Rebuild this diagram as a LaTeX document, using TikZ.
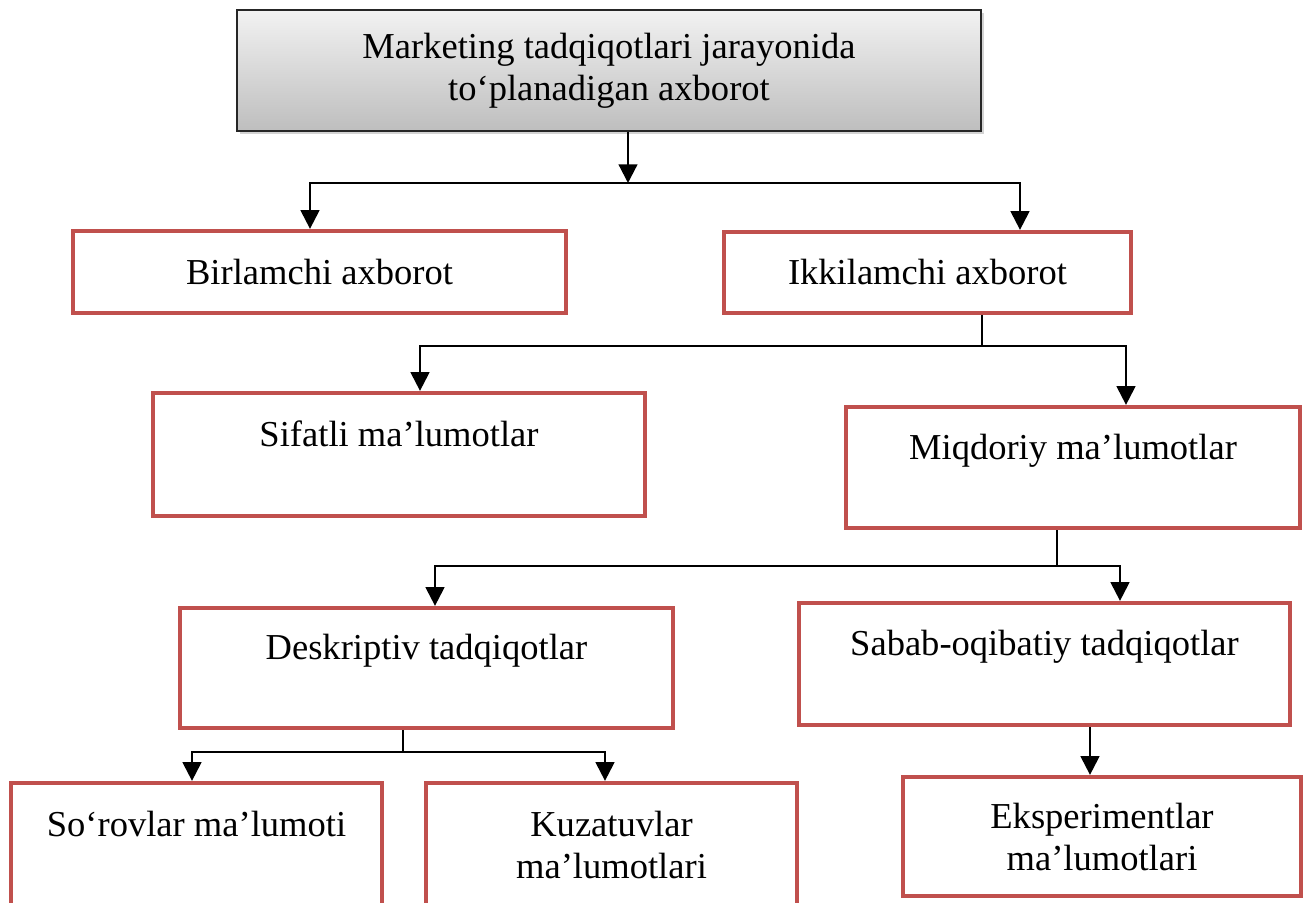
\documentclass[tikz,border=0pt]{standalone}
\usepackage{fontspec}
\setmainfont{Liberation Serif}
\usepackage{tikz}
\usetikzlibrary{arrows.meta,positioning,calc,shadows}
\definecolor{boxred}{RGB}{192, 80, 77}
\definecolor{headtop}{RGB}{242, 242, 242}
\definecolor{headbottom}{RGB}{190, 190, 190}

\begin{document}
\begin{tikzpicture}[x=0.75pt,y=-0.75pt,
    font=\fontsize{27.4}{31.5}\selectfont,
    redbox/.style={draw=boxred,line width=3.2pt,fill=white,align=center,inner sep=0pt},
    headbox/.style={draw=black!85,line width=1.5pt,top color=headtop,bottom color=headbottom,align=center,
      drop shadow={shadow xshift=2pt,shadow yshift=-2pt,opacity=0.35}},
    link/.style={line width=1.7pt},
    arr/.style={link,-{Triangle[width=14pt,length=14pt]}}]
    \useasboundingbox (0,0) rectangle (1303,903);
    \node[headbox,minimum width=558pt,minimum height=90.75pt] (info) at (609,70.5) {Marketing tadqiqotlari jarayonida\\to‘planadigan axborot};
    \node[redbox,minimum width=369.75pt,minimum height=61.5pt] (birl) at (319.5,272) {Birlamchi axborot};
    \node[redbox,minimum width=305.25pt,minimum height=60.75pt] (ikki) at (927.5,272.5) {Ikkilamchi axborot};
    \node[redbox,minimum width=369pt,minimum height=92.25pt] (sifat) at (399,454.5) {Sifatli ma’lumotlar\\ \mbox{}};
    \node[redbox,minimum width=340.5pt,minimum height=90.75pt] (miqdor) at (1073,467.5) {Miqdoriy ma’lumotlar\\ \mbox{}};
    \node[redbox,minimum width=369.75pt,minimum height=90pt] (desk) at (426.5,668) {Deskriptiv tadqiqotlar\\ \mbox{}};
    \node[redbox,minimum width=368.25pt,minimum height=91.5pt] (sabab) at (1044.5,664) {Sabab-oqibatiy tadqiqotlar\\ \mbox{}};
    \node[redbox,minimum width=278.25pt,minimum height=92.25pt] (sorov) at (196.5,844.5) {So‘rovlar ma’lumoti\\ \mbox{}};
    \node[redbox,minimum width=278.25pt,minimum height=92.25pt] (kuzat) at (611.5,844.5) {Kuzatuvlar\\ma’lumotlari};
    \node[redbox,minimum width=298.5pt,minimum height=89.25pt] (eksp) at (1102,836.5) {Eksperimentlar\\ma’lumotlari};

    \coordinate (j1) at (628,183);
    \coordinate (j2) at (982,346);
    \coordinate (j3) at (1057,566);
    \coordinate (j4) at (403,752);
    \draw[arr] (628,0 |- info.south) -- (j1);
    \draw[arr] (j1) -| (310,0 |- birl.north);
    \draw[arr] (j1) -| (1020,0 |- ikki.north);
    \draw[link] (982,0 |- ikki.south) -- (j2);
    \draw[arr] (j2) -| (420,0 |- sifat.north);
    \draw[arr] (j2) -| (1126,0 |- miqdor.north);
    \draw[link] (1057,0 |- miqdor.south) -- (j3);
    \draw[arr] (j3) -| (435,0 |- desk.north);
    \draw[arr] (j3) -| (1120,0 |- sabab.north);
    \draw[link] (403,0 |- desk.south) -- (j4);
    \draw[arr] (j4) -| (192,0 |- sorov.north);
    \draw[arr] (j4) -| (605,0 |- kuzat.north);
    \draw[arr] (1090,0 |- sabab.south) -- (1090,0 |- eksp.north);
\end{tikzpicture}
\end{document}
